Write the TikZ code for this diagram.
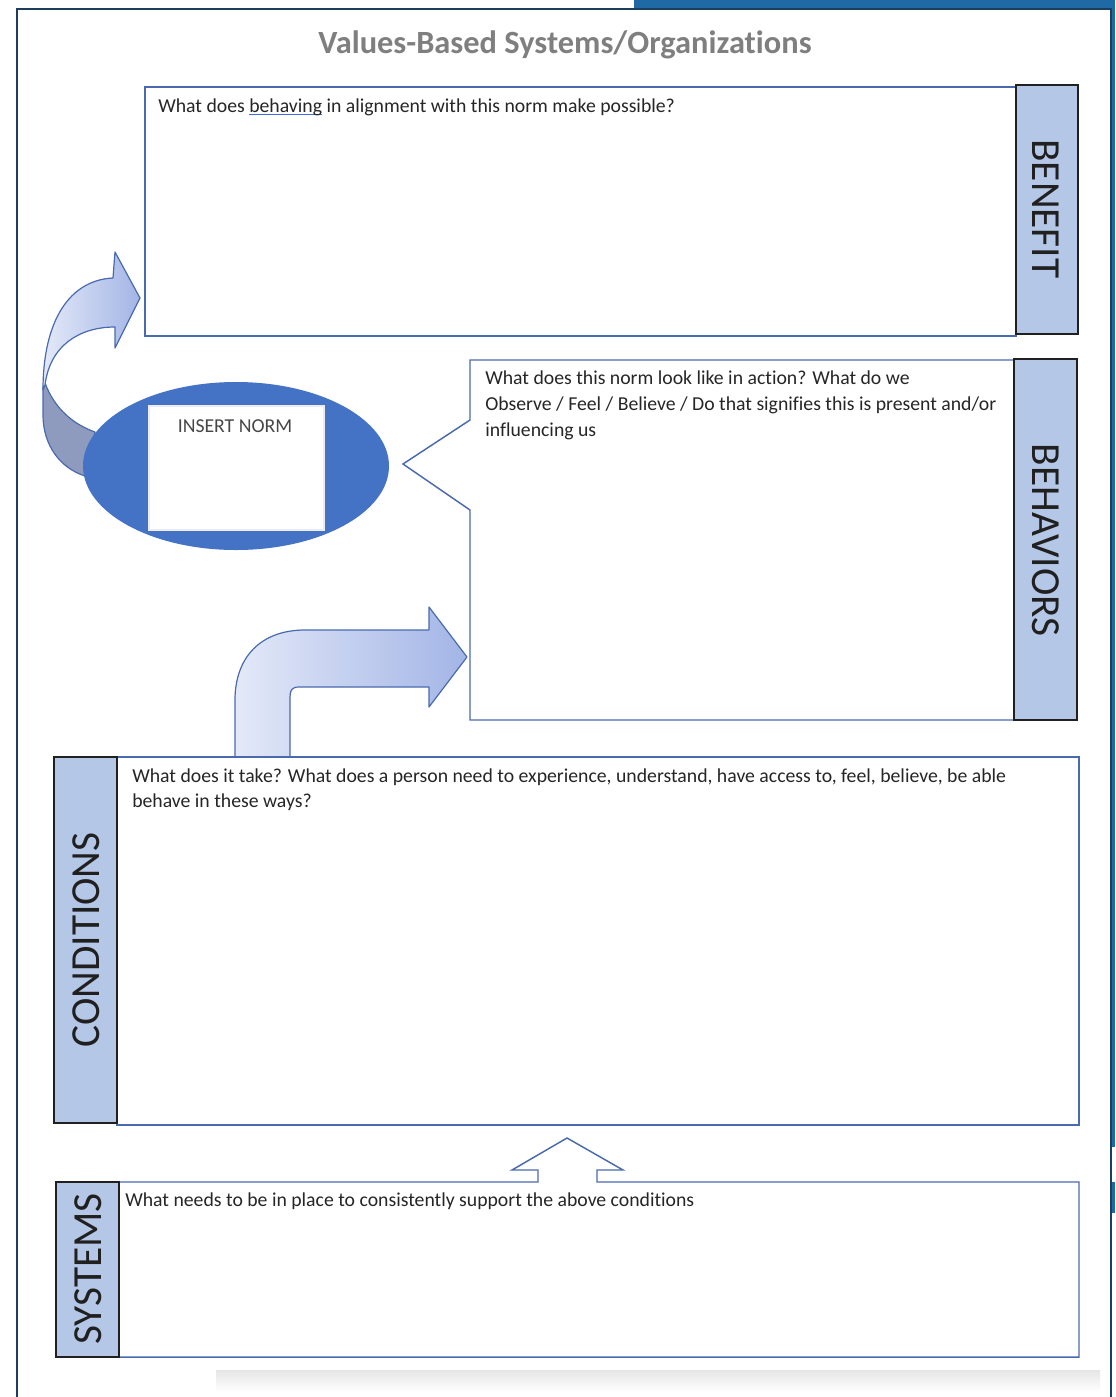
\documentclass[tikz,border=0pt]{standalone}
\usepackage{fontspec}
\setmainfont{Carlito}[Ligatures={NoCommon}]
\definecolor{topblue}{HTML}{1F6AA5}
\definecolor{framenavy}{HTML}{1C3E5E}
\definecolor{boxblue}{HTML}{4A6AAE}
\definecolor{tabfill}{HTML}{B4C7E7}
\definecolor{tabedge}{HTML}{202020}
\definecolor{ellblue}{HTML}{4472C4}
\definecolor{titlegray}{HTML}{7F7F7F}
\definecolor{bodytext}{HTML}{262626}
\definecolor{ulblue}{HTML}{3A6BE0}
\definecolor{arrowlight}{HTML}{E3E9F8}
\definecolor{arrowmid}{HTML}{A3B5E6}
\definecolor{ribbondark}{HTML}{8F9BBE}
\newcommand\myblueul[1]{\setbox0\hbox{#1}\rlap{\textcolor{ulblue}{\rule[-2.6pt]{\wd0}{0.9pt}}}\box0\relax}
\begin{document}
\begin{tikzpicture}[x=0.75pt,y=-0.75pt,
  boxline/.style={draw=boxblue, line width=1.1pt},
  tab/.style={draw=tabedge, fill=tabfill, line width=1.1pt},
  tablabel/.style={font=\fontsize{31}{36}\selectfont, text=tabedge, inner sep=0pt},
  body/.style={font=\fontsize{14.8}{17}\selectfont, text=bodytext, inner sep=0pt, anchor=base west},
  arrowshape/.style={draw=boxblue, line width=0.9pt, line join=round}
]
\useasboundingbox (0,0) rectangle (1115,1397);
\fill[white] (0,0) rectangle (1115,1397);
% page background bands and frame
\fill[topblue] (634,0) rectangle (1115,9);
\fill[topblue] (1110,0) rectangle (1115,1147);
\fill[topblue] (1110,1182) rectangle (1115,1213);
\draw[framenavy, line width=1.6pt] (17,1397) -- (17,9) -- (1111,9) -- (1111,1397);
% bottom shadow
\shade[top color=black!10, bottom color=white] (216,1370) rectangle (1100,1392);

% title
\node[font=\bfseries\fontsize{24.3}{28}\selectfont, text=titlegray] (title) at (565,45) {Values-Based Systems/Organizations};

% benefit box
\draw[boxline, fill=white] (145,87) rectangle (1016,336);
\draw[tab] (1016,85) rectangle (1078,334);
\node[tablabel, rotate=-90] (benefitlabel) at (1046,209) {BENEFIT};
\node[body] (benefittext) at (158,112) {What does \myblueul{behaving} in alignment with this norm make possible?};

% curved arrow from norm to benefit
\path[arrowshape, fill=ribbondark] (45,383) .. controls (55,410) and (75,425) .. (95,432) -- (85,476) .. controls (60,468) and (43,445) .. (43,415) -- (43,388) -- cycle;
\path[arrowshape, left color=arrowlight, right color=arrowmid] (43,390) .. controls (43,320) and (70,280) .. (113,278) -- (115,252) -- (140,298) -- (115,348) -- (115,327) .. controls (80,327) and (50,345) .. (45,385) -- cycle;

% norm ellipse
\fill[ellblue] (236,466) ellipse [x radius=114.75pt, y radius=63pt];
\draw[draw=white!85!gray, fill=white, line width=0.8pt] (149,406) rectangle (324,530);
\node[font=\fontsize{14.8}{17}\selectfont, text=bodytext!85!white, inner sep=0pt] (normtext) at (235,426) {INSERT NORM};

% behaviors callout
\draw[boxline, fill=white] (470,360) -- (1014,360) -- (1014,720) -- (470,720) -- (470,510) -- (403,464) -- (470,420) -- cycle;
\draw[tab] (1014,359) rectangle (1077,720);
\node[tablabel, rotate=-90] (behaviorslabel) at (1046,540) {BEHAVIORS};
\node[body] (behav1) at (485,384) {What does this norm look like in action? What do we};
\node[body] (behav2) at (485,410) {Observe / Feel / Believe / Do that signifies this is present and/or};
\node[body] (behav3) at (485,436) {influencing us};

% bent arrow conditions -> behaviors
\path[arrowshape, left color=arrowlight, right color=arrowmid] (235,757) -- (235,700) .. controls (235,658) and (260,630) .. (305,630) -- (429,630) -- (429,607) -- (467,657) -- (429,707) -- (429,687) -- (299,687) .. controls (292,687) and (290,690) .. (290,697) -- (290,757) -- cycle;

% conditions box
\draw[boxline, fill=white] (117,757) rectangle (1079,1125);
\draw[tab] (54,757) rectangle (117,1123);
\node[tablabel, rotate=90] (conditionslabel) at (86,940) {CONDITIONS};
\node[body] (cond1) at (132,782) {What does it take? What does a person need to experience, understand, have access to, feel, believe, be able};
\node[body] (cond2) at (132,807) {behave in these ways?};

% systems box with up arrow
\draw[boxline, fill=white, line join=miter] (119,1182) -- (538,1182) -- (538,1170) -- (512,1170) -- (567,1138) -- (623,1170) -- (597,1170) -- (597,1182) -- (1079,1182) -- (1079,1357) -- (119,1357) -- cycle;
\draw[tab] (56,1182) rectangle (119,1357);
\node[tablabel, rotate=90] (systemslabel) at (88,1269) {SYSTEMS};
\node[body] (systext) at (125,1206) {What needs to be in place to consistently support the above conditions};
\end{tikzpicture}
\end{document}
